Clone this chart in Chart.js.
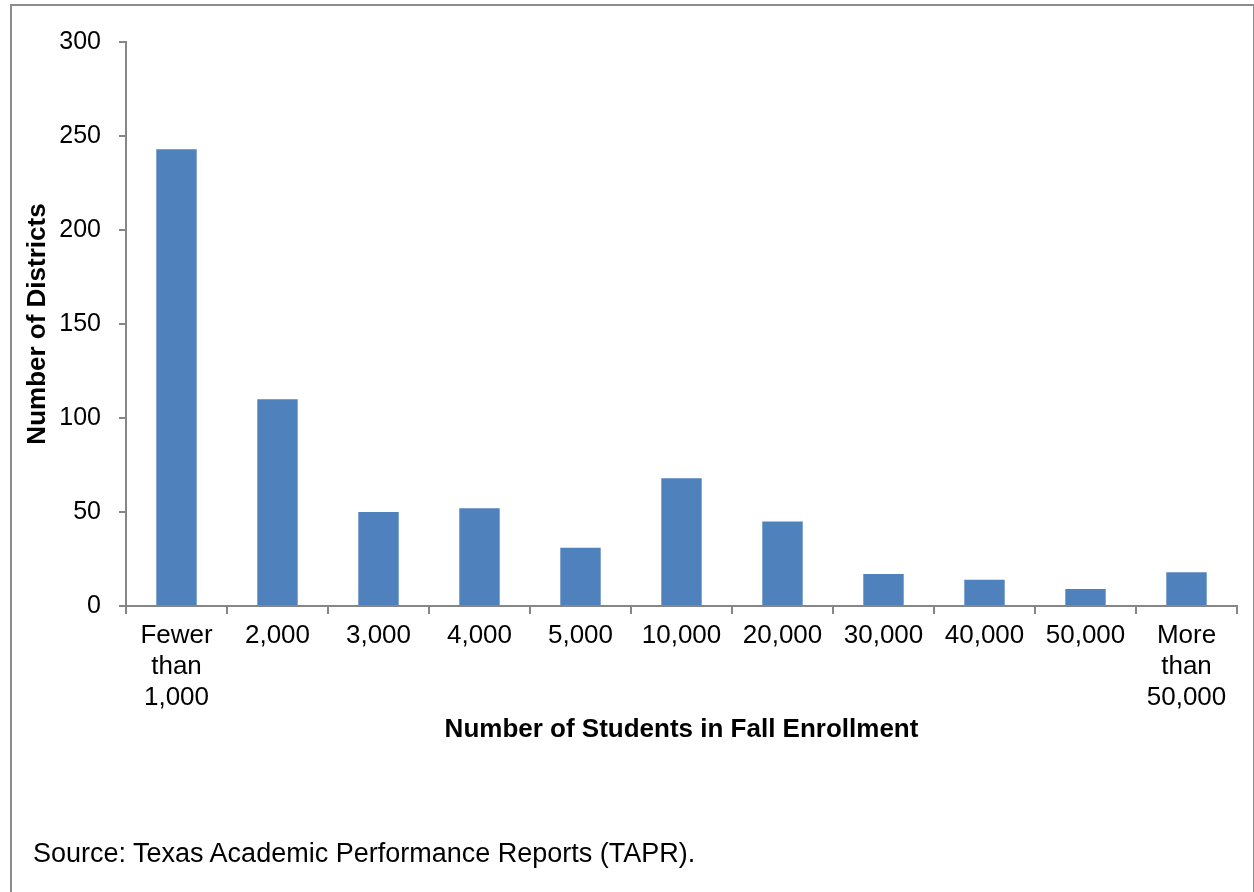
<!DOCTYPE html>
<html>
<head>
<meta charset="utf-8">
<script src="https://cdn.jsdelivr.net/npm/chart.js@4"></script>
<style>
  body { margin: 0; background: #fff; }
  #frame { position: absolute; left: 10px; top: 4px; width: 1241px; height: 886px; border: 2px solid #8c8c8c; }
  #wrap { position: absolute; left: 0; top: 0; width: 1254px; height: 892px; }
  #source { position: absolute; left: 33px; top: 838px; font-family: "Liberation Sans", Arial, sans-serif; font-size: 27px; color: #000; }
</style>
</head>
<body>
<div id="frame"></div>
<div id="wrap"><canvas id="enrollChart" width="1254" height="892"></canvas></div>
<div id="source">Source: Texas Academic Performance Reports (TAPR).</div>
<script>
const categories = [['Fewer', 'than', '1,000'], '2,000', '3,000', '4,000', '5,000', '10,000', '20,000', '30,000', '40,000', '50,000', ['More', 'than', '50,000']];
const districts = [243, 110, 50, 52, 31, 68, 45, 17, 14, 9, 18];
const yTicks = [0, 50, 100, 150, 200, 250, 300];

const axisGray = '#868686';
const font = { family: '"Liberation Sans", Arial, sans-serif', size: 25 };

let ctx = document.getElementById('enrollChart').getContext('2d');
let enrollChart = new Chart(ctx, {
  type: 'bar',
  data: {
    labels: categories,
    datasets: [{
      label: 'Districts',
      data: districts,
      backgroundColor: '#4F81BD',
      borderWidth: 0,
      barPercentage: 0.4,
      categoryPercentage: 1.0
    }]
  },
  options: {
    responsive: false,
    animation: false,
    layout: { padding: { left: 22, right: 17, top: 42, bottom: 140 } },
    plugins: { legend: { display: false }, tooltip: { enabled: false } },
    scales: {
      x: {
        grid: { display: true, drawOnChartArea: false, tickLength: 8, color: axisGray, lineWidth: 2 },
        border: { color: axisGray, width: 2 },
        ticks: { color: '#000', font: { ...font, size: 26, lineHeight: 1.2 }, padding: 6, maxRotation: 0, autoSkip: false },
        title: { display: true, text: 'Number of Students in Fall Enrollment', color: '#000', font: { ...font, size: 26, weight: 'bold' }, padding: { top: 0, bottom: 7 } },
        afterFit: function(scale) { scale.height = 146; }
      },
      y: {
        min: 0,
        max: 300,
        afterBuildTicks: function(scale) { scale.ticks = yTicks.map(v => ({ value: v })); },
        grid: { display: true, drawOnChartArea: false, tickLength: 7, color: axisGray, lineWidth: 2 },
        border: { color: axisGray, width: 2 },
        ticks: { color: '#000', font: font, padding: 18 },
        title: { display: true, text: 'Number of Districts', color: '#000', font: { ...font, size: 26, weight: 'bold' }, padding: 0 },
        afterFit: function(scale) { scale.width = 104; }
      }
    }
  }
});
</script>
</body>
</html>
